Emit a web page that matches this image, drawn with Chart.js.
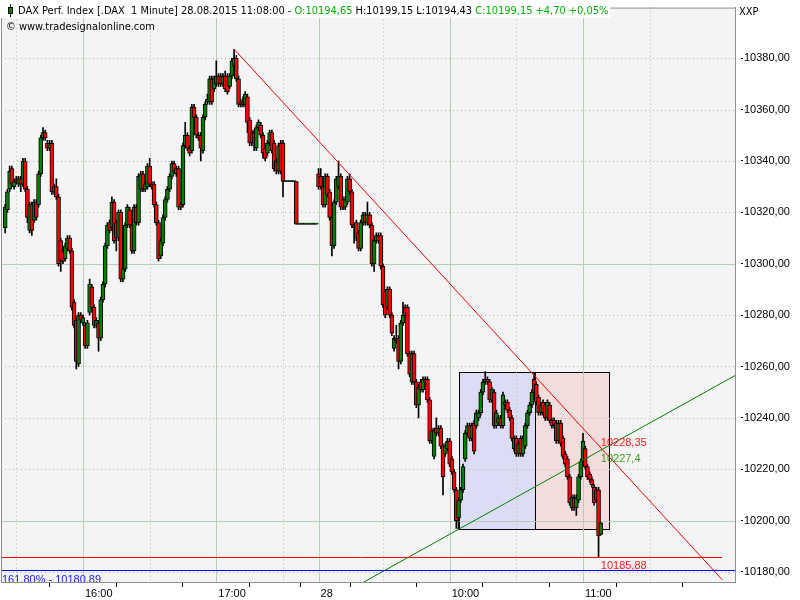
<!DOCTYPE html>
<html>
<head>
<meta charset="utf-8">
<script src="https://cdn.jsdelivr.net/npm/chart.js@4.4.1/dist/chart.umd.min.js"></script>
<style>
  html, body { margin: 0; padding: 0; background: #fff; }
  #wrap { position: relative; width: 800px; height: 600px; }
</style>
</head>
<body>
<div id="wrap"><canvas id="dax"></canvas></div>
<script>
// DAX 1 minute candles: 27.08. 15:25 - 17:45 (index 0..140), 28.08. 09:01 - 11:08 (index 141..268)
var opens = [
  10314,10321,10329,10337,10330,10333,10331,10333,10331,10340,
  10329,10313,10323,10317,10324,10323,10335,10349,10351,10347,
  10345,10347,10330,10330,10326,10309,10305,10302,10306,10310,
  10305,10285,10278,10261,10280,10277,10276,10268,10281,10291,
  10283,10276,10277,10271,10286,10292,10307,10316,10314,10324,
  10316,10310,10320,10294,10298,10315,10321,10315,10305,10322,
  10316,10329,10335,10329,10330,10338,10331,10331,10323,10316,
  10303,10308,10318,10325,10329,10334,10339,10337,10337,10323,
  10323,10346,10350,10345,10344,10361,10357,10350,10350,10344,
  10357,10363,10363,10372,10368,10370,10373,10373,10370,10373,
  10373,10369,10373,10377,10380,10372,10363,10362,10362,10365,
  10356,10351,10351,10345,10353,10354,10350,10345,10343,10347,
  10351,10347,10340,10336,10347,10347,10332,10332,10332,10332,
  10332,10332,10315.4,10315.4,10315.4,10315.4,10315.4,10315.4,10315.4,10315.4,
  10315.4,10335,10334,10330,10323,10334,10328,10318,10307,10324,
  10330,10334,10325,10322,10324,10333,10328,10315,10316,10312,
  10306,10316,10319,10316,10319,10315,10300,10309,10311,10311,
  10299,10289,10283,10290,10280,10267,10271,10271,10262,10277,
  10283,10283,10265,10254,10265,10254,10245,10254,10251,10255,
  10255,10247,10231,10225,10236,10234,10236,10229,10226,10228,
  10231,10224,10219,10212,10201,10208,10212,10224,10234,10237,
  10232,10238,10237,10240,10242,10250,10254,10255,10254,10247,
  10250,10237,10238,10240,10237,10245,10246,10243,10240,10228,
  10232,10226,10232,10226,10229,10237,10242,10245,10255,10253,
  10248,10242,10246,10245,10240,10245,10239,10239,10238,10231,
  10238,10232,10226,10224,10217,10205,10209,10205,10208,10217,
  10223,10228,10221,10218,10216,10213,10212,10212,10194.65
];
var highs = [
  10323,10329,10338,10338,10333,10334,10334,10334,10341,10341,
  10330,10324,10324,10325,10325,10336,10350,10353,10352,10348,
  10348,10348,10331,10333,10327,10310,10306,10308,10311,10311,
  10306,10286,10279,10281,10281,10280,10277,10278,10294,10292,
  10284,10279,10278,10287,10293,10308,10316,10317,10326,10325,
  10317,10321,10321,10299,10316,10323,10322,10316,10323,10323,
  10335,10336,10336,10332,10339,10341,10332,10332,10324,10317,
  10310,10319,10326,10330,10335,10340,10340,10338,10338,10324,
  10347,10355,10351,10346,10362,10362,10358,10351,10351,10358,
  10363,10366,10373,10373,10373,10379,10374,10374,10374,10375,
  10374,10374,10380,10383.5,10381,10373,10364,10365,10367,10366,
  10357,10352,10352,10354,10356,10355,10351,10346,10348,10352,
  10352,10348,10341,10347,10348,10348,10332,10332,10332,10332,
  10332,10332,10315.4,10315.4,10315.4,10315.4,10315.4,10315.4,10315.4,10315.4,
  10315.4,10337,10337,10331,10335,10335,10329,10319,10325,10334,
  10340,10335,10326,10326,10334,10335,10329,10316,10317,10313,
  10317,10320,10320,10324,10320,10316,10310,10312,10312,10312,
  10300,10290,10291,10291,10281,10272,10276,10272,10278,10285,
  10284,10284,10266,10266,10266,10255,10253,10255,10256,10256,
  10256,10248,10236,10236,10240,10237,10237,10230,10230,10232,
  10232,10225,10220,10213,10209,10213,10222,10235,10238,10238,
  10238,10239,10243,10243,10251,10255,10258,10256,10255,10252,
  10251,10243,10241,10241,10250,10247,10247,10244,10241,10233,
  10233,10231,10233,10233,10238,10243,10246,10251,10257.7,10254,
  10249,10246,10247,10246,10247,10246,10240,10240,10239,10239,
  10239,10233,10227,10225,10218,10210,10210,10210,10218,10224,
  10234,10229,10222,10219,10217,10214,10213,10213,10199.15
];
var lows = [
  10312,10320,10328,10330,10329,10331,10330,10328,10330,10328,
  10316,10312,10311,10316,10317,10322,10334,10348,10348,10344,
  10344,10327,10327,10325,10299,10297,10300,10301,10305,10304,
  10282,10275,10259,10260,10277,10276,10267,10267,10280,10282,
  10275,10275,10266,10270,10285,10291,10306,10312,10313,10308,
  10305,10309,10293,10293,10297,10314,10314,10304,10304,10315,
  10315,10328,10328,10328,10329,10330,10329,10322,10315,10301,
  10302,10307,10317,10324,10328,10333,10335,10334,10321,10321,
  10322,10345,10344,10342,10343,10356,10349,10348,10340,10343,
  10356,10362,10362,10362,10367,10369,10369,10369,10369,10367,
  10366,10368,10372,10376,10371,10361,10361,10361,10361,10351,
  10346,10346,10344,10344,10352,10349,10341,10340,10342,10346,
  10343,10336,10335,10335,10335,10326,10332,10332,10332,10332,
  10332,10315.4,10315.4,10315.4,10315.4,10315.4,10315.4,10315.4,10315.4,10315.4,
  10315.4,10329,10329,10322,10322,10326,10317,10303,10306,10323,
  10329,10321,10321,10321,10323,10327,10314,10308,10309,10305,
  10305,10315,10315,10315,10314,10299,10297,10308,10308,10298,
  10283,10279,10282,10279,10272,10266,10269,10259,10261,10276,
  10280,10264,10256,10253,10253,10244,10240,10250,10250,10253,
  10246,10230,10230,10224,10233,10233,10228,10210,10225,10227,
  10221,10218,10211,10197,10196.6,10207,10211,10223,10233,10231,
  10231,10226,10236,10239,10241,10249,10253,10253,10246,10246,
  10236,10236,10237,10236,10236,10244,10242,10239,10231,10227,
  10225,10225,10225,10225,10228,10236,10241,10244,10249,10245,
  10241,10241,10241,10239,10239,10238,10236,10236,10230,10230,
  10229,10224,10221,10216,10206,10204,10204,10202,10207,10216,
  10222,10220,10216,10215,10213,10206,10207,10185.88,10194.43
];
var closes = [
  10322,10328,10336,10331,10332,10332,10333,10331,10340,10329,
  10318,10323,10313,10324,10318,10335,10349,10351,10349,10345,
  10347,10328,10328,10326,10300,10301,10301,10307,10310,10305,
  10283,10276,10262,10280,10278,10279,10268,10277,10292,10283,
  10276,10278,10271,10286,10292,10307,10315,10313,10324,10309,
  10310,10320,10294,10298,10315,10322,10315,10305,10322,10316,
  10334,10335,10329,10331,10338,10331,10330,10323,10316,10302,
  10309,10318,10325,10329,10334,10339,10336,10335,10322,10322,
  10346,10350,10345,10343,10361,10357,10350,10349,10345,10357,
  10362,10364,10372,10363,10372,10373,10370,10370,10373,10368,
  10367,10373,10379,10380,10372,10362,10362,10363,10366,10355,
  10347,10347,10347,10353,10355,10350,10343,10341,10347,10351,
  10344,10337,10336,10346,10336,10332,10332,10332,10332,10332,
  10332,10315.4,10315.4,10315.4,10315.4,10315.4,10315.4,10315.4,10315.4,10315.4,
  10315.4,10330,10330,10323,10334,10327,10318,10307,10324,10333,
  10334,10322,10322,10325,10333,10328,10315,10314,10310,10306,
  10316,10319,10316,10319,10315,10300,10309,10311,10309,10299,
  10284,10280,10290,10280,10273,10271,10270,10262,10277,10280,
  10281,10265,10257,10265,10254,10245,10252,10251,10255,10254,
  10247,10231,10235,10235,10234,10236,10229,10217,10229,10231,
  10222,10219,10212,10200,10208,10212,10221,10234,10237,10232,
  10237,10227,10242,10242,10250,10254,10255,10254,10247,10251,
  10237,10242,10240,10237,10249,10246,10243,10240,10232,10232,
  10226,10230,10226,10232,10237,10242,10245,10250,10250,10246,
  10242,10245,10242,10240,10246,10239,10237,10237,10231,10238,
  10230,10225,10222,10217,10207,10209,10205,10209,10217,10223,
  10231,10221,10217,10216,10214,10207,10208,10194,10199.15
];

// time axis: bar index of the half-hour marks and their labels
var tickPos  = [5, 35, 65, 95, 125, 141, 170, 200, 230, 260, 290];
var tickText = ["", "16:00", "", "17:00", "", "28", "", "10:00", "", "11:00", ""];
var priceTicks = [10180, 10200, 10220, 10240, 10260, 10280, 10300, 10320, 10340, 10360, 10380];
var solidPrices = [10200, 10300];

// drawing tools
var redTrend = [[103, 10383.5], [268, 10228.35]];
var greenTrend = [[204, 10196.6], [268, 10227.4]];
var boxIdx = [204.3, 238.4, 271.7];
var boxRange = [10196.6, 10257.7];
var lowLevel = 10185.88;
var fibLevel = 10180.89;
var lineEnd = 322.6;

var UP = "#008000", DOWN = "#ff0000";
var axisFont = { family: "Liberation Sans", size: 11 };

function fmt(v) { return String(v).replace(".", ","); }

var bodies = [], wicks = [], colors = [];
for (var i = 0; i < opens.length; i++) {
  bodies.push({ x: i, y: [opens[i], closes[i]] });
  wicks.push({ x: i, y: [lows[i], highs[i]] });
  colors.push(closes[i] >= opens[i] ? UP : DOWN);
}

function valAt(line, idx) {
  var s = (line[1][1] - line[0][1]) / (line[1][0] - line[0][0]);
  return line[0][1] + s * (idx - line[0][0]);
}

var overlay = {
  id: "overlay",
  beforeDraw: function (chart) {
    var ctx = chart.ctx, a = chart.chartArea;
    ctx.save();
    ctx.fillStyle = "#fff";
    ctx.fillRect(0, 0, chart.width, chart.height);
    ctx.fillStyle = "#f4f4f4";
    ctx.fillRect(a.left, a.top, a.right - a.left, a.bottom - a.top);
    ctx.restore();
  },
  beforeDatasetsDraw: function (chart) {
    var ctx = chart.ctx, a = chart.chartArea, x = chart.scales.x, y = chart.scales.y;
    ctx.save();
    // range boxes
    var yt = Math.round(y.getPixelForValue(boxRange[1])) + 0.5;
    var yb = Math.round(y.getPixelForValue(boxRange[0])) + 0.5;
    var bx = boxIdx.map(function (v) { return Math.round(x.getPixelForValue(v)) + 0.5; });
    ctx.fillStyle = "#dcdcf4";
    ctx.fillRect(bx[0], yt, bx[1] - bx[0], yb - yt);
    ctx.fillStyle = "#f2dcdc";
    ctx.fillRect(bx[1], yt, bx[2] - bx[1], yb - yt);
    ctx.strokeStyle = "#000";
    ctx.lineWidth = 1;
    ctx.strokeRect(bx[0], yt, bx[1] - bx[0], yb - yt);
    ctx.strokeRect(bx[1], yt, bx[2] - bx[1], yb - yt);

    // grid
    tickPos.forEach(function (v, k) {
      var px = Math.round(x.getPixelForValue(v)) + 0.5;
      var major = tickText[k] !== "";
      ctx.setLineDash(major ? [] : [1, 3]);
      ctx.strokeStyle = major ? "#b8cdb8" : "#a8bca8";
      ctx.beginPath();
      ctx.moveTo(px, a.top);
      ctx.lineTo(px, a.bottom);
      ctx.stroke();
    });
    priceTicks.forEach(function (v) {
      var py = Math.round(y.getPixelForValue(v)) + 0.5;
      var major = solidPrices.indexOf(v) >= 0;
      ctx.setLineDash(major ? [] : [1, 3]);
      ctx.strokeStyle = major ? "#b8cdb8" : "#a8bca8";
      ctx.beginPath();
      ctx.moveTo(a.left, py);
      ctx.lineTo(a.right, py);
      ctx.stroke();
    });
    ctx.restore();
  },
  afterDatasetsDraw: function (chart) {
    var ctx = chart.ctx, a = chart.chartArea, x = chart.scales.x, y = chart.scales.y;
    ctx.save();
    ctx.beginPath();
    ctx.rect(a.left, a.top, a.right - a.left, a.bottom - a.top);
    ctx.clip();
    ctx.lineWidth = 1;

    // trend lines
    ctx.strokeStyle = "#ff0000";
    ctx.beginPath();
    ctx.moveTo(x.getPixelForValue(redTrend[0][0]), y.getPixelForValue(redTrend[0][1]));
    ctx.lineTo(x.getPixelForValue(lineEnd), y.getPixelForValue(valAt(redTrend, lineEnd)));
    ctx.stroke();

    ctx.strokeStyle = "#008000";
    ctx.beginPath();
    ctx.moveTo(x.getPixelForValue(150), y.getPixelForValue(valAt(greenTrend, 150)));
    ctx.lineTo(x.getPixelForValue(340), y.getPixelForValue(valAt(greenTrend, 340)));
    ctx.stroke();

    // levels
    var yl = Math.round(y.getPixelForValue(lowLevel)) + 0.5;
    ctx.strokeStyle = "#ff0000";
    ctx.beginPath();
    ctx.moveTo(a.left, yl);
    ctx.lineTo(x.getPixelForValue(lineEnd), yl);
    ctx.stroke();

    var yf = Math.round(y.getPixelForValue(fibLevel)) + 0.5;
    ctx.strokeStyle = "#0000ff";
    ctx.beginPath();
    ctx.moveTo(a.left, yf);
    ctx.lineTo(a.right, yf);
    ctx.stroke();

    // labels
    var last = opens.length - 1;
    var lx = x.getPixelForValue(last);
    ctx.font = "11px 'Liberation Sans'";
    ctx.textBaseline = "alphabetic";
    ctx.textAlign = "left";
    ctx.fillStyle = "#ff1a1a";
    ctx.fillText(fmt(redTrend[1][1]), lx, y.getPixelForValue(redTrend[1][1]) - 2);
    ctx.fillStyle = "#3d9a1c";
    ctx.fillText(fmt(greenTrend[1][1]), lx, y.getPixelForValue(greenTrend[1][1]) + 12);
    ctx.fillStyle = "#ff1a1a";
    ctx.fillText(fmt(lowLevel), lx, yl + 11);
    ctx.fillStyle = "#2020ff";
    ctx.fillText("161,80% - " + fmt(fibLevel), a.left + 1, yf + 12);
    ctx.restore();
  },
  afterDraw: function (chart) {
    var ctx = chart.ctx, a = chart.chartArea;
    ctx.save();
    ctx.strokeStyle = "#909090";
    ctx.lineWidth = 1;
    ctx.beginPath();
    ctx.moveTo(a.left + 0.5, a.bottom);
    ctx.lineTo(a.left + 0.5, a.top + 0.5);
    ctx.lineTo(a.right, a.top + 0.5);
    ctx.stroke();

    // header
    ctx.fillStyle = "#fff";
    ctx.fillRect(0, 0, 610, 18);
    ctx.strokeStyle = "#000";
    ctx.beginPath();
    ctx.moveTo(10.5, 4);
    ctx.lineTo(10.5, 17);
    ctx.stroke();
    ctx.fillStyle = UP;
    ctx.fillRect(8.5, 7.5, 4, 6);
    ctx.strokeRect(8.5, 7.5, 4, 6);

    ctx.font = "9.85px 'DejaVu Sans'";
    ctx.textBaseline = "alphabetic";
    var parts = [
      ["DAX Perf. Index [.DAX  1 Minute] 28.08.2015 11:08:00 - ", "#000"],
      ["O:10194,65 ", "#00b000"],
      ["H:10199,15 L:10194,43 ", "#000"],
      ["C:10199,15 +4,70 +0,05%", "#00b000"]
    ];
    var tx = 18;
    parts.forEach(function (p) {
      ctx.fillStyle = p[1];
      ctx.fillText(p[0], tx, 14);
      tx += ctx.measureText(p[0]).width;
    });
    ctx.fillStyle = "#000";
    ctx.fillText("\u00a9 www.tradesignalonline.com", 6, 30);
    ctx.fillText("XXP", 739, 15);
    ctx.restore();
  }
};

new Chart(document.getElementById("dax"), {
  type: "bar",
  data: {
    datasets: [
      {
        label: "body",
        data: bodies,
        backgroundColor: colors,
        borderColor: "#000",
        borderWidth: 1,
        borderSkipped: false,
        barThickness: 4,
        minBarLength: 1,
        grouped: false,
        order: 1
      },
      {
        label: "wick",
        data: wicks,
        backgroundColor: "#000",
        borderWidth: 0,
        barThickness: 1,
        grouped: false,
        order: 2
      }
    ]
  },
  options: {
    responsive: true,
    maintainAspectRatio: false,
    animation: false,
    layout: { padding: { left: 1, top: 4, right: 0, bottom: 0 } },
    plugins: { legend: { display: false }, tooltip: { enabled: false } },
    scales: {
      x: {
        type: "linear",
        offset: false,
        min: -1.89,
        max: 328.4,
        afterBuildTicks: function (s) { s.ticks = tickPos.map(function (v) { return { value: v }; }); },
        afterFit: function (s) { s.height = 18; },
        grid: { drawOnChartArea: false, tickLength: 5, tickColor: "#000" },
        border: { color: "#909090" },
        ticks: {
          autoSkip: false, maxRotation: 0, minRotation: 0,
          align: "start", labelOffset: 2, padding: 0,
          color: "#000", font: axisFont,
          callback: function (v, k) { return tickText[k]; }
        }
      },
      y: {
        position: "right",
        min: 10176.1,
        max: 10399.7,
        afterBuildTicks: function (s) { s.ticks = priceTicks.map(function (v) { return { value: v }; }); },
        afterFit: function (s) { s.width = 65; },
        grid: { drawOnChartArea: false, tickLength: 8, tickColor: "#000", tickBorderDash: [0, 5, 3, 20] },
        border: { color: "#909090" },
        ticks: {
          padding: 1, color: "#000", font: axisFont,
          callback: function (v) { return v.toFixed(2).replace(".", ","); }
        }
      }
    }
  },
  plugins: [overlay]
});
</script>
</body>
</html>
